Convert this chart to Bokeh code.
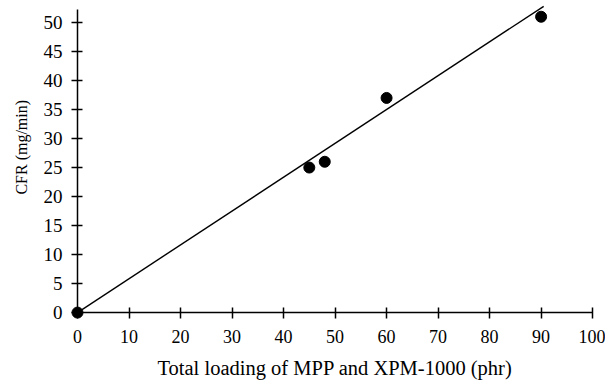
import math
from bokeh.plotting import figure
from bokeh.models import Range1d, FixedTicker, Label
from bokeh.embed import file_html
from bokeh.resources import INLINE

# data
loading = [0, 45, 48, 60, 90]
cfr = [0, 25, 26, 37, 51]
fit_x = [0, 90.5]
fit_y = [0, 52.8]
x_ticks = [0, 10, 20, 30, 40, 50, 60, 70, 80, 90, 100]
y_ticks = [0, 5, 10, 15, 20, 25, 30, 35, 40, 45, 50]
x_title = "Total loading of MPP and XPM-1000 (phr)"
y_title = "CFR (mg/min)"

FONT = "Liberation Serif"

p = figure(width=605, height=384, output_backend="svg", toolbar_location=None,
           x_range=Range1d(-14.95, 102.5), y_range=Range1d(-12.4, 53.8),
           min_border_left=0, min_border_right=0, min_border_top=0, min_border_bottom=0)
p.outline_line_color = None
p.grid.visible = False
p.background_fill_color = "white"

p.line(fit_x, fit_y, line_color="black", line_width=1.4)
p.scatter(loading, cfr, size=11, color="black")

for ax in (p.xaxis[0], p.yaxis[0]):
    ax.fixed_location = 0
    ax.axis_line_color = "black"
    ax.axis_line_width = 1.5
    ax.major_tick_line_color = "black"
    ax.major_tick_line_width = 1.5
    ax.major_tick_in = 5
    ax.major_tick_out = 6
    ax.minor_tick_line_color = None
    ax.major_label_text_font = FONT
    ax.major_label_text_color = "black"
    ax.axis_label_text_font = FONT
    ax.axis_label_text_font_size = "20.5px"
    ax.axis_label_text_font_style = "normal"
    ax.axis_label_text_color = "black"

p.xaxis[0].major_label_text_font_size = "18px"
p.yaxis[0].major_label_text_font_size = "19px"
p.xaxis[0].bounds = (0, 100)
p.yaxis[0].bounds = (0, 52.2)
p.xaxis[0].ticker = FixedTicker(ticks=x_ticks)
p.yaxis[0].ticker = FixedTicker(ticks=y_ticks)
p.xaxis[0].axis_label = x_title
p.xaxis[0].major_label_standoff = 11
p.yaxis[0].major_label_standoff = 9
p.xaxis[0].axis_label_standoff = 11

p.add_layout(Label(x=21, y=28.5, x_units="screen", y_units="data", text=y_title,
                   angle=math.pi / 2, text_align="center", text_baseline="middle",
                   text_font=FONT, text_font_size="16px", text_color="#000000"))

open("out.html", "w").write(file_html(p, INLINE))
